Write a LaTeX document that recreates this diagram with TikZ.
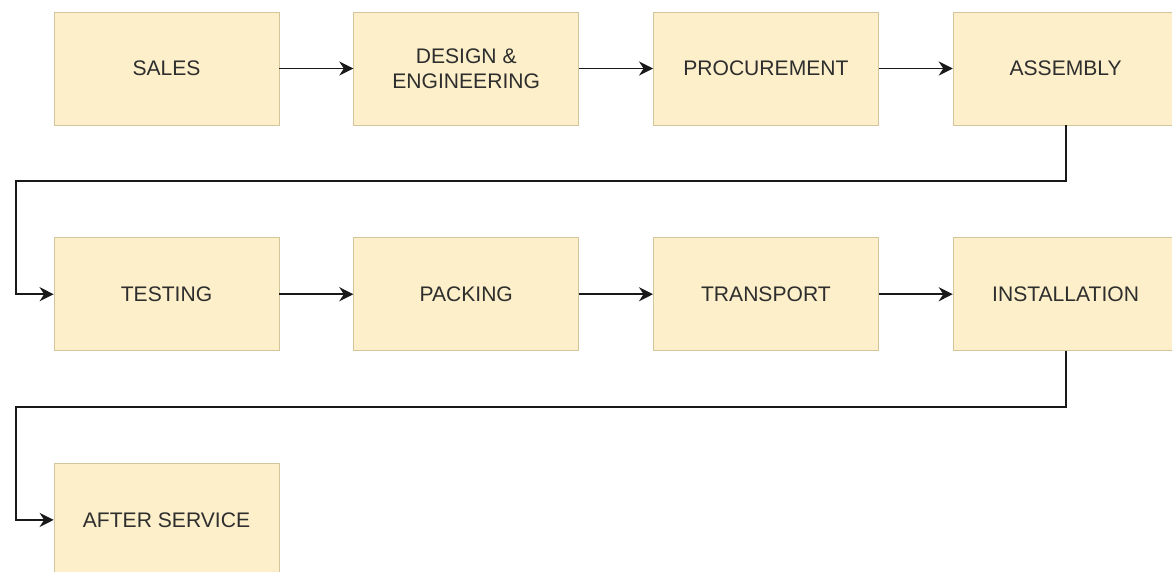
\documentclass[tikz,border=0pt]{standalone}
\usepackage{fontspec}
\setmainfont{Liberation Sans}
\usetikzlibrary{positioning,arrows.meta}

\definecolor{stagefill}{HTML}{FCEFC9}
\definecolor{stageline}{HTML}{D2C59A}

\tikzset{
  stage/.style={draw=stageline, fill=stagefill, minimum width=4.5cm, minimum height=2.26cm,
    inner sep=0pt, align=center, text=black!82, font=\fontsize{12}{14}\selectfont},
  flow/.style={-{Stealth[length=8pt,width=8pt]}, line width=1pt, black!90}
}

\begin{document}
\begin{tikzpicture}[node distance=2.24cm and 1.48cm]
  \useasboundingbox (0,0) rectangle (23.44,-11.42);
  \clip (0,0) rectangle (23.44,-11.42);

  % first row
  \node[stage] (sales) at (3.33,-1.37) {SALES};
  \node[stage, right=of sales] (design) {DESIGN \&\\ENGINEERING};
  \node[stage, right=of design] (procure) {PROCUREMENT};
  \node[stage, right=of procure] (assembly) {ASSEMBLY};

  % second row
  \node[stage, below=of sales] (testing) {TESTING};
  \node[stage, right=of testing] (packing) {PACKING};
  \node[stage, right=of packing] (transport) {TRANSPORT};
  \node[stage, right=of transport] (install) {INSTALLATION};

  % third row
  \node[stage, below=of testing] (after) {AFTER SERVICE};

  \draw[flow] (sales) -- (design);
  \draw[flow] (design) -- (procure);
  \draw[flow] (procure) -- (assembly);
  \draw[flow] (testing) -- (packing);
  \draw[flow] (packing) -- (transport);
  \draw[flow] (transport) -- (install);

  % wrap-around connectors
  \draw[flow] (assembly.south) -- ++(0,-1.12) -| ([xshift=-.76cm]testing.west) -- (testing.west);
  \draw[flow] (install.south) -- ++(0,-1.12) -| ([xshift=-.76cm]after.west) -- (after.west);
\end{tikzpicture}
\end{document}
